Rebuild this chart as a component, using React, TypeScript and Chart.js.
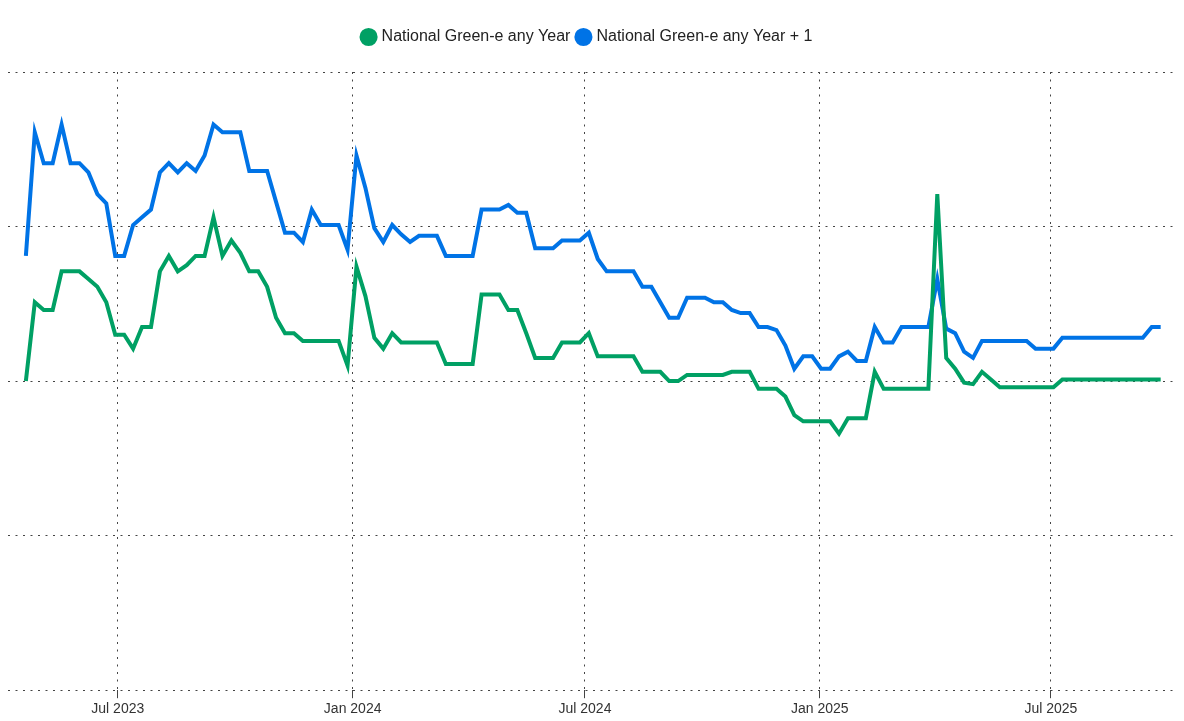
import React, { useEffect, useRef } from "react";
import { Chart, registerables } from "chart.js";

Chart.register(...registerables);

// ---- Data ----
const seriesNames = ["National Green-e any Year", "National Green-e any Year + 1"];
const firstWeek = "2023-04-20"; // weekly observations start
const anyYear = [
  2.0, 2.51, 2.46, 2.46, 2.71, 2.71, 2.71, 2.66, 2.61, 2.51,
  2.3, 2.3, 2.21, 2.35, 2.35, 2.71, 2.81, 2.71, 2.75, 2.81,
  2.81, 3.06, 2.81, 2.91, 2.83, 2.71, 2.71, 2.61, 2.41, 2.31,
  2.31, 2.26, 2.26, 2.26, 2.26, 2.26, 2.1, 2.74, 2.55, 2.28,
  2.21, 2.31, 2.25, 2.25, 2.25, 2.25, 2.25, 2.11, 2.11, 2.11,
  2.11, 2.56, 2.56, 2.56, 2.46, 2.46, 2.31, 2.15, 2.15, 2.15,
  2.25, 2.25, 2.25, 2.31, 2.16, 2.16, 2.16, 2.16, 2.16, 2.06,
  2.06, 2.06, 2.0, 2.0, 2.04, 2.04, 2.04, 2.04, 2.04, 2.06,
  2.06, 2.06, 1.95, 1.95, 1.95, 1.9, 1.78, 1.74, 1.74, 1.74,
  1.74, 1.66, 1.76, 1.76, 1.76, 2.06, 1.95, 1.95, 1.95, 1.95,
  1.95, 1.95, 3.21, 2.15, 2.08, 1.99, 1.98, 2.06, 2.01, 1.96,
  1.96, 1.96, 1.96, 1.96, 1.96, 1.96, 2.01, 2.01, 2.01, 2.01,
  2.01, 2.01, 2.01, 2.01, 2.01, 2.01, 2.01, 2.01,
];
const anyYearPlus1 = [
  2.81, 3.61, 3.41, 3.41, 3.66, 3.41, 3.41, 3.35, 3.21, 3.15,
  2.81, 2.81, 3.01, 3.06, 3.11, 3.35, 3.41, 3.35, 3.41, 3.36,
  3.46, 3.66, 3.61, 3.61, 3.61, 3.36, 3.36, 3.36, 3.16, 2.96,
  2.96, 2.9, 3.11, 3.01, 3.01, 3.01, 2.85, 3.46, 3.25, 2.99,
  2.9, 3.01, 2.95, 2.9, 2.94, 2.94, 2.94, 2.81, 2.81, 2.81,
  2.81, 3.11, 3.11, 3.11, 3.14, 3.09, 3.09, 2.86, 2.86, 2.86,
  2.91, 2.91, 2.91, 2.96, 2.79, 2.71, 2.71, 2.71, 2.71, 2.61,
  2.61, 2.51, 2.41, 2.41, 2.54, 2.54, 2.54, 2.51, 2.51, 2.46,
  2.44, 2.44, 2.35, 2.35, 2.33, 2.23, 2.08, 2.16, 2.16, 2.08,
  2.08, 2.16, 2.19, 2.13, 2.13, 2.35, 2.25, 2.25, 2.35, 2.35,
  2.35, 2.35, 2.66, 2.34, 2.31, 2.19, 2.15, 2.26, 2.26, 2.26,
  2.26, 2.26, 2.26, 2.21, 2.21, 2.21, 2.28, 2.28, 2.28, 2.28,
  2.28, 2.28, 2.28, 2.28, 2.28, 2.28, 2.35, 2.35,
];
const tickDates = ["2023-07-01", "2024-01-01", "2024-07-01", "2025-01-01", "2025-07-01"];
const tickLabels = ["Jul 2023", "Jan 2024", "Jul 2024", "Jan 2025", "Jul 2025"];
const xRange = ["2023-04-06", "2025-10-07"];
const yTicks = [0, 1, 2, 3, 4];

// ---- Helpers ----
const DAY = 86400000;
const dayNum = (s: string) => Date.parse(s + "T00:00:00Z") / DAY;
const weekDays = anyYear.map((_, i) => dayNum(firstWeek) + 7 * i);

const GREEN = "#00a064";
const BLUE = "#0073e6";
const GRID = "#444444";
const FONT = '"Liberation Sans", Arial, sans-serif';

const legendTweak = {
  id: "legendTweak",
  beforeInit(chart: any) {
    const legend = chart.legend;
    if (!legend) return;
    const orig = legend.fit;
    legend.fit = function () {
      orig.call(this);
      this.height += 17;
    };
  },
  afterLayout(chart: any) {
    const legend = chart.legend;
    if (!legend) return;
    legend.left -= 4;
    legend.right -= 4;
  },
};

export default function App() {
  const ref = useRef<HTMLCanvasElement | null>(null);

  useEffect(() => {
    if (!ref.current) return;
    const chart = new Chart(ref.current, {
      type: "line",
      data: {
        datasets: [
          {
            label: seriesNames[0],
            data: anyYear.map((v, i) => ({ x: weekDays[i], y: v })),
            borderColor: GREEN,
            backgroundColor: GREEN,
            borderWidth: 4,
            pointRadius: 0,
            tension: 0,
          },
          {
            label: seriesNames[1],
            data: anyYearPlus1.map((v, i) => ({ x: weekDays[i], y: v })),
            borderColor: BLUE,
            backgroundColor: BLUE,
            borderWidth: 4,
            pointRadius: 0,
            tension: 0,
          },
        ],
      },
      options: {
        animation: false,
        responsive: false,
        devicePixelRatio: 1,
        layout: { padding: { left: 8, right: 8, top: 21, bottom: 0 } },
        plugins: {
          legend: {
            position: "top",
            labels: {
              usePointStyle: true,
              pointStyle: "circle",
              boxWidth: 10,
              boxHeight: 10,
              padding: 8,
              color: "#222",
              font: { family: FONT, size: 16 },
            },
          },
          tooltip: { enabled: false },
        },
        scales: {
          x: {
            type: "linear",
            min: dayNum(xRange[0]),
            max: dayNum(xRange[1]),
            afterBuildTicks: (axis: any) => {
              axis.ticks = tickDates.map((d) => ({ value: dayNum(d) }));
            },
            ticks: {
              autoSkip: false,
              maxRotation: 0,
              color: "#333",
              padding: 3,
              font: { family: FONT, size: 14 },
              callback: (v: any) => {
                const idx = tickDates.findIndex((d) => Math.abs(dayNum(d) - v) < 0.5);
                return idx >= 0 ? tickLabels[idx] : "";
              },
            },
            grid: { color: GRID, lineWidth: 1, tickLength: 8, drawTicks: true },
            border: { display: false, dash: [2, 5.5] },
          },
          y: {
            min: 0,
            max: 4,
            afterBuildTicks: (axis: any) => {
              axis.ticks = yTicks.map((v) => ({ value: v }));
            },
            ticks: { display: false },
            grid: { color: GRID, lineWidth: 1, drawTicks: false },
            border: { display: false, dash: [2, 5.5] },
          },
        },
      },
      plugins: [legendTweak],
    } as any);
    return () => chart.destroy();
  }, []);

  return (
    <div style={{ position: "fixed", left: 0, top: 0, width: 1184, height: 721, background: "#fff" }}>
      <canvas ref={ref} width={1184} height={721} style={{ display: "block" }} />
    </div>
  );
}
